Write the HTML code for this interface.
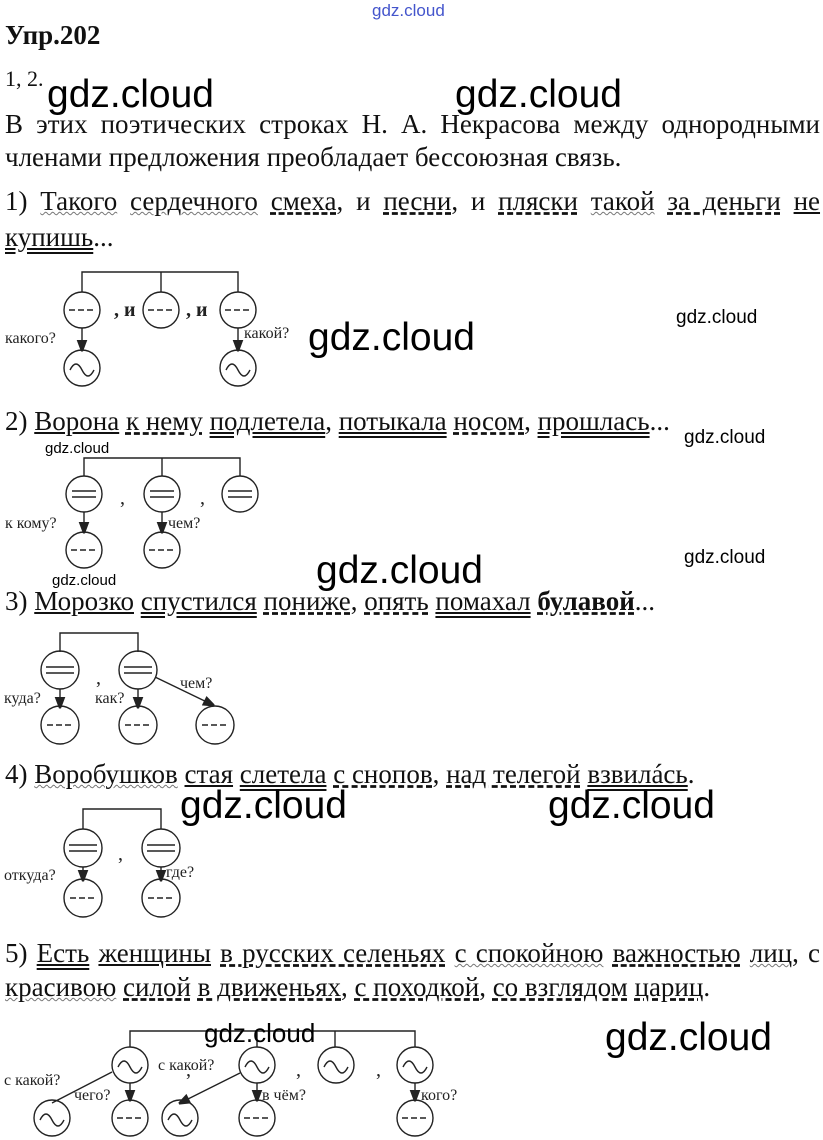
<!DOCTYPE html>
<html><head><meta charset="utf-8">
<style>
body{margin:0;width:823px;height:1140px;background:#fff;position:relative;overflow:hidden;font-family:"Liberation Serif","DejaVu Serif",serif;color:#111}
.t{position:absolute;font-size:27px;white-space:nowrap;line-height:30px}
.j{position:absolute;left:5px;width:815px;font-size:27px;line-height:30px;text-align:justify;text-align-last:justify;white-space:nowrap}
.g{position:absolute;font-family:"Liberation Sans",sans-serif;color:#000;white-space:nowrap}
.big{font-size:39px;line-height:40px}
.sm{font-size:19px;line-height:20px}
.u{text-decoration:underline}
.d{text-decoration:underline dashed}
.w{text-decoration:underline wavy #777;text-decoration-thickness:1px}
.dd{text-decoration:underline double}
</style></head><body>
<div class="g" style="left:372px;top:1px;font-size:17px;color:#4455cc">gdz.cloud</div>
<div class="t" style="left:5px;top:20px;font-weight:bold">Упр.202</div>
<div class="t" style="left:5px;top:64px;font-size:22px">1, 2.</div>
<div class="g big" style="left:47px;top:75px">gdz.cloud</div>
<div class="g big" style="left:455px;top:75px">gdz.cloud</div>
<div class="j" style="top:109px">В этих поэтических строках Н. А. Некрасова между однородными</div>
<div class="t" style="left:5px;top:142px">членами предложения преобладает бессоюзная связь.</div>
<div class="j" style="top:186px">1) <span class="w">Такого</span> <span class="w">сердечного</span> <span class="d">смеха</span>, и <span class="d">песни</span>, и <span class="d">пляски</span> <span class="w">такой</span> <span class="d">за деньги</span> <span class="u">не</span></div>
<div class="t" style="left:5px;top:222px"><span class="dd">купишь</span>...</div>
<div class="t" style="left:5px;top:406px">2) <span class="u">Ворона</span> <span class="d">к нему</span> <span class="dd">подлетела</span>, <span class="dd">потыкала</span> <span class="d">носом</span>, <span class="dd">прошлась</span>...</div>
<div class="t" style="left:5px;top:586px">3) <span class="u">Морозко</span> <span class="dd">спустился</span> <span class="d">пониже</span>, <span class="d">опять</span> <span class="dd">помахал</span> <b class="d">булавой</b>...</div>
<div class="t" style="left:5px;top:759px">4) <span class="w">Воробушков</span> <span class="u">стая</span> <span class="dd">слетела</span> <span class="d">с снопов</span>, <span class="d">над телегой</span> <span class="dd">взвилáсь</span>.</div>
<div class="j" style="top:938px">5) <span class="dd">Есть</span> <span class="u">женщины</span> <span class="d">в русских селеньях</span> <span class="w">с спокойною</span> <span class="d">важностью</span> <span class="w">лиц</span>, с</div>
<div class="t" style="left:5px;top:972px"><span class="w">красивою</span> <span class="d">силой</span> <span class="d">в движеньях</span>, <span class="d">с походкой</span>, <span class="d">со взглядом</span> <span class="d">цариц</span>.</div>

<svg style="position:absolute;left:0;top:0" width="823" height="1140" font-family="Liberation Serif, serif" font-size="16" fill="none" stroke="#222" stroke-width="1.4">
<defs><marker id="a" markerWidth="8" markerHeight="8" refX="7" refY="4" orient="auto"><path d="M0,1 L8,4 L0,7z" stroke="#222" fill="#222"/></marker></defs>
<!-- D1 -->
<path d="M82,292V272H238V292M161,272V292"/>
<circle cx="82" cy="310" r="18"/><circle cx="161" cy="310" r="18"/><circle cx="238" cy="310" r="18"/>
<circle cx="82" cy="368" r="18"/><circle cx="238" cy="368" r="18"/>
<path d="M69,310h26M148,310h26M225,310h26" stroke-dasharray="6,3"/>
<path d="M70,370q6,-12 12,0t12,0M226,370q6,-12 12,0t12,0"/>
<path d="M82,328V350" marker-end="url(#a)"/><path d="M238,328V350" marker-end="url(#a)"/>
<g fill="#222" stroke="none"><text x="5" y="343">какого?</text><text x="244" y="338">какой?</text><text x="114" y="316" font-weight="bold" font-size="20">, и</text><text x="186" y="316" font-weight="bold" font-size="20">, и</text></g>
<!-- D2 -->
<path d="M84,476V458H240V476M162,458V476"/>
<circle cx="84" cy="494" r="18"/><circle cx="162" cy="494" r="18"/><circle cx="240" cy="494" r="18"/>
<circle cx="84" cy="550" r="18"/><circle cx="162" cy="550" r="18"/>
<path d="M72,491h24M72,497h24M150,491h24M150,497h24M228,491h24M228,497h24"/>
<path d="M71,550h26M149,550h26" stroke-dasharray="6,3"/>
<path d="M84,512V532" marker-end="url(#a)"/><path d="M162,512V532" marker-end="url(#a)"/>
<g fill="#222" stroke="none"><text x="5" y="528">к кому?</text><text x="168" y="528">чем?</text><text x="120" y="504" font-size="20">,</text><text x="200" y="504" font-size="20">,</text></g>
<!-- D3 -->
<path d="M60,652V633H138V652"/>
<circle cx="60" cy="670" r="19"/><circle cx="138" cy="670" r="19"/>
<circle cx="60" cy="725" r="19"/><circle cx="138" cy="725" r="19"/><circle cx="215" cy="725" r="19"/>
<path d="M46,667h28M46,673h28M124,667h28M124,673h28"/>
<path d="M47,725h26M125,725h26M202,725h26" stroke-dasharray="6,3"/>
<path d="M60,689V707" marker-end="url(#a)"/><path d="M138,689V707" marker-end="url(#a)"/><path d="M155,677L213,705" marker-end="url(#a)"/>
<g fill="#222" stroke="none"><text x="4" y="703">куда?</text><text x="95" y="703">как?</text><text x="180" y="688">чем?</text><text x="96" y="684" font-size="20">,</text></g>
<!-- D4 -->
<path d="M83,829V809H161V829"/>
<circle cx="83" cy="848" r="19"/><circle cx="161" cy="848" r="19"/>
<circle cx="83" cy="898" r="19"/><circle cx="161" cy="898" r="19"/>
<path d="M69,845h28M69,851h28M147,845h28M147,851h28"/>
<path d="M70,898h26M148,898h26" stroke-dasharray="6,3"/>
<path d="M83,867V880" marker-end="url(#a)"/><path d="M161,867V880" marker-end="url(#a)"/>
<g fill="#222" stroke="none"><text x="4" y="880">откуда?</text><text x="166" y="877">где?</text><text x="118" y="860" font-size="20">,</text></g>
<!-- D5 -->
<path d="M130,1047V1031H415V1047M257,1031V1047M335,1031V1047"/>
<circle cx="130" cy="1065" r="18"/><circle cx="257" cy="1065" r="18"/><circle cx="336" cy="1065" r="18"/><circle cx="415" cy="1065" r="18"/>
<circle cx="52" cy="1118" r="18"/><circle cx="130" cy="1118" r="18"/><circle cx="180" cy="1118" r="18"/><circle cx="257" cy="1118" r="18"/><circle cx="415" cy="1118" r="18"/>
<path d="M118,1067q6,-12 12,0t12,0M245,1067q6,-12 12,0t12,0M324,1067q6,-12 12,0t12,0M403,1067q6,-12 12,0t12,0M40,1120q6,-12 12,0t12,0M168,1120q6,-12 12,0t12,0"/>
<path d="M117,1118h26M244,1118h26M402,1118h26" stroke-dasharray="6,3"/>
<path d="M130,1083V1100" marker-end="url(#a)"/><path d="M257,1083V1100" marker-end="url(#a)"/><path d="M415,1083V1100" marker-end="url(#a)"/><path d="M240,1073L180,1103" marker-end="url(#a)"/>
<path d="M112,1072L52,1103"/>
<g fill="#222" stroke="none"><text x="4" y="1085">с какой?</text><text x="158" y="1070">с какой?</text><text x="74" y="1100">чего?</text><text x="262" y="1100">в чём?</text><text x="421" y="1100">кого?</text><text x="186" y="1076" font-size="20">,</text><text x="296" y="1076" font-size="20">,</text><text x="376" y="1076" font-size="20">,</text></g>
</svg>

<div class="g sm" style="left:676px;top:308px">gdz.cloud</div>
<div class="g big" style="left:308px;top:318px">gdz.cloud</div>
<div class="g sm" style="left:684px;top:428px">gdz.cloud</div>
<div class="g" style="left:45px;top:440px;font-size:15px">gdz.cloud</div>
<div class="g sm" style="left:684px;top:548px">gdz.cloud</div>
<div class="g big" style="left:316px;top:551px">gdz.cloud</div>
<div class="g" style="left:52px;top:572px;font-size:15px">gdz.cloud</div>
<div class="g big" style="left:180px;top:786px">gdz.cloud</div>
<div class="g big" style="left:548px;top:786px">gdz.cloud</div>
<div class="g" style="left:204px;top:1018px;font-size:26px">gdz.cloud</div>
<div class="g big" style="left:605px;top:1018px">gdz.cloud</div>
</body></html>
